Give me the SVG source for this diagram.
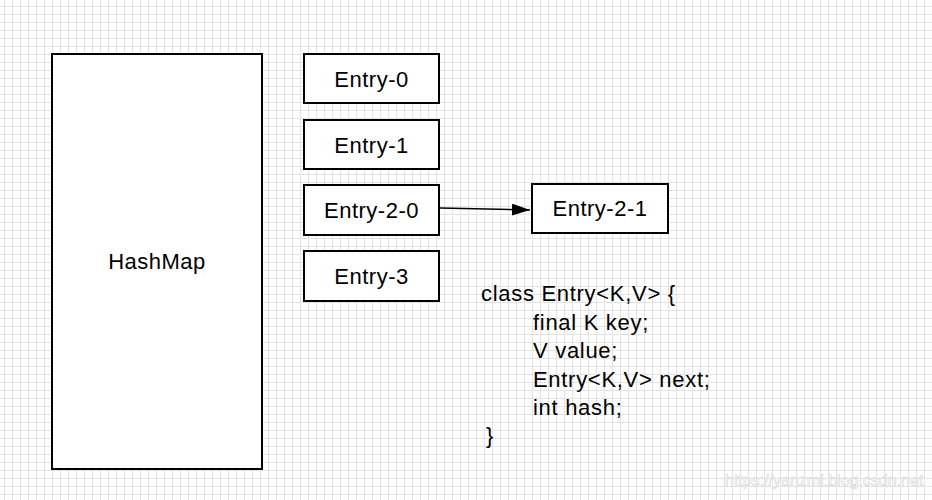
<svg xmlns="http://www.w3.org/2000/svg" width="932" height="500" viewBox="0 0 932 500">
<defs>
<pattern id="grid" width="8" height="8" patternUnits="userSpaceOnUse">
<path d="M4.5 0V8M0 6.5H8" stroke="#e3e3e3" stroke-width="1" fill="none"/>
</pattern>
<marker id="arrow" viewBox="0 0 18 12" refX="18" refY="6" markerWidth="18" markerHeight="12" markerUnits="userSpaceOnUse" orient="auto">
<path d="M0 0L18 6L0 12Z" fill="#000"/>
</marker>
<style>
.box{fill:#fff;stroke:#000;stroke-width:2}
.lbl{font-family:"Liberation Sans",Arial,sans-serif;font-size:22px;letter-spacing:0.5px;fill:#000;text-anchor:middle}
.code{font-family:"Liberation Sans",Arial,sans-serif;font-size:22px;letter-spacing:0.7px;fill:#000}
.wm{font-family:"Liberation Sans",Arial,sans-serif;font-size:16px;fill:#ffffff;stroke:#d6d6d6;stroke-width:0.6}
</style>
</defs>
<rect width="932" height="500" fill="#fff"/>
<rect width="932" height="500" fill="url(#grid)"/>
<g id="hashmap">
<rect class="box" x="52" y="54" width="210" height="415"/>
<text class="lbl" x="157" y="269">HashMap</text>
</g>
<g id="entry-0">
<rect class="box" x="304" y="54" width="135" height="49"/>
<text class="lbl" x="371.5" y="86.5">Entry-0</text>
</g>
<g id="entry-1">
<rect class="box" x="304" y="120" width="135" height="49"/>
<text class="lbl" x="371.5" y="152.5">Entry-1</text>
</g>
<g id="entry-2-0">
<rect class="box" x="304" y="185" width="135" height="50"/>
<text class="lbl" x="371.5" y="218">Entry-2-0</text>
</g>
<g id="entry-3">
<rect class="box" x="304" y="251" width="135" height="50"/>
<text class="lbl" x="371.5" y="284">Entry-3</text>
</g>
<g id="entry-2-1">
<rect class="box" x="532" y="184" width="136" height="49"/>
<text class="lbl" x="600" y="216">Entry-2-1</text>
</g>
<g id="connectors">
<line x1="440" y1="208" x2="530" y2="210" stroke="#000" stroke-width="1.5" marker-end="url(#arrow)"/>
</g>
<g id="code">
<text class="code" x="481" y="301">class Entry&lt;K,V&gt; {</text>
<text class="code" x="533" y="329.5">final K key;</text>
<text class="code" x="533" y="358">V value;</text>
<text class="code" x="533" y="386.5">Entry&lt;K,V&gt; next;</text>
<text class="code" x="533" y="415">int hash;</text>
<text class="code" x="486" y="443">}</text>
</g>
<text class="wm" x="725" y="486">https://yanzml.blog.csdn.net</text>
</svg>
